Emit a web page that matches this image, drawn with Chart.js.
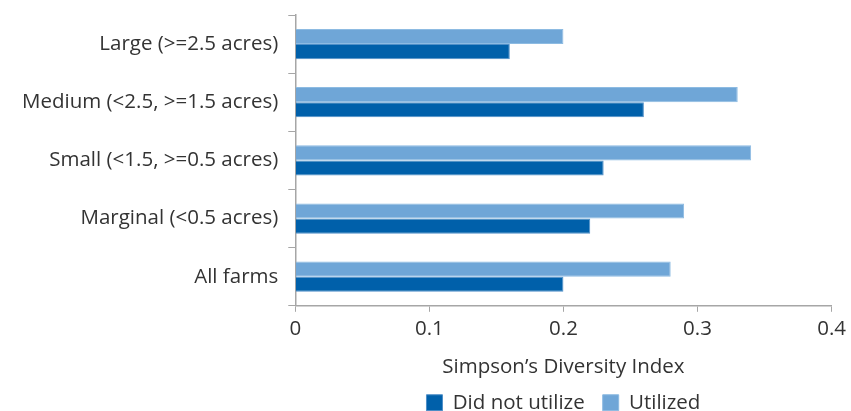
<!DOCTYPE html>
<html>
<head>
<meta charset="utf-8">
<script src="https://cdn.jsdelivr.net/npm/chart.js@4"></script>
<style>
  html, body { margin: 0; padding: 0; background: #fff; }
  #chart-container { width: 851px; height: 411px; }
</style>
</head>
<body>
<div id="chart-container"><canvas id="sdiChart"></canvas></div>
<script>
// Farm size categories, top to bottom
const farmSizes = [
  "Large (>=2.5 acres)",
  "Medium (<2.5, >=1.5 acres)",
  "Small (<1.5, >=0.5 acres)",
  "Marginal (<0.5 acres)",
  "All farms",
];
const utilized = [0.20, 0.33, 0.34, 0.29, 0.28];
const didNotUtilize = [0.16, 0.26, 0.23, 0.22, 0.20];
const xTicks = [0, 0.1, 0.2, 0.3, 0.4];

const textColor = "#333333";
const axisColor = "#a6a6a6";
const fontFamily = "'Open Sans', 'Noto Sans', sans-serif";
const fontSize = 20.5;

const ctx = document.getElementById("sdiChart").getContext("2d");

new Chart(ctx, {
  type: "bar",
  data: {
    labels: farmSizes,
    datasets: [
      {
        label: "Utilized",
        data: utilized,
        backgroundColor: "#6fa6d7",
        borderColor: "#8dbbe2",
        borderWidth: 1,
      },
      {
        label: "Did not utilize",
        data: didNotUtilize,
        backgroundColor: "#0060aa",
        borderColor: "#4f8fc8",
        borderWidth: 1,
      },
    ],
  },
  options: {
    indexAxis: "y",
    responsive: true,
    maintainAspectRatio: false,
    animation: false,
    categoryPercentage: 0.52,
    barPercentage: 1.0,
    layout: {
      padding: { top: 15, right: 16, left: 12, bottom: -12 },
    },
    scales: {
      x: {
        min: 0,
        max: 0.4,
        afterBuildTicks: (axis) => {
          axis.ticks = xTicks.map((v) => ({ value: v }));
        },
        ticks: {
          color: textColor,
          font: { family: fontFamily, size: fontSize },
          padding: 5,
          callback: (v) => String(v),
        },
        grid: {
          drawOnChartArea: false,
          drawTicks: true,
          tickLength: 6,
          color: axisColor,
        },
        border: { display: true, color: axisColor, width: 1.5 },
        title: {
          display: true,
          text: "Simpson\u2019s Diversity Index",
          color: textColor,
          font: { family: fontFamily, size: fontSize },
          padding: { top: 8, bottom: -4.5 },
        },
      },
      y: {
        afterFit: (scale) => {
          scale.paddingTop = 0;
          scale.paddingBottom = 0;
        },
        ticks: {
          color: textColor,
          font: { family: fontFamily, size: fontSize },
          padding: 10,
        },
        grid: {
          offset: true,
          drawOnChartArea: false,
          drawTicks: true,
          tickLength: 7,
          color: axisColor,
        },
        border: { display: true, color: axisColor, width: 1.5 },
      },
    },
    plugins: {
      legend: {
        position: "bottom",
        fullSize: false,
        reverse: true,
        labels: {
          color: textColor,
          font: { family: fontFamily, size: fontSize, lineHeight: 1.0 },
          boxWidth: 16,
          boxHeight: 16,
          padding: 18,
        },
      },
      tooltip: { enabled: false },
    },
  },
});
</script>
</body>
</html>
